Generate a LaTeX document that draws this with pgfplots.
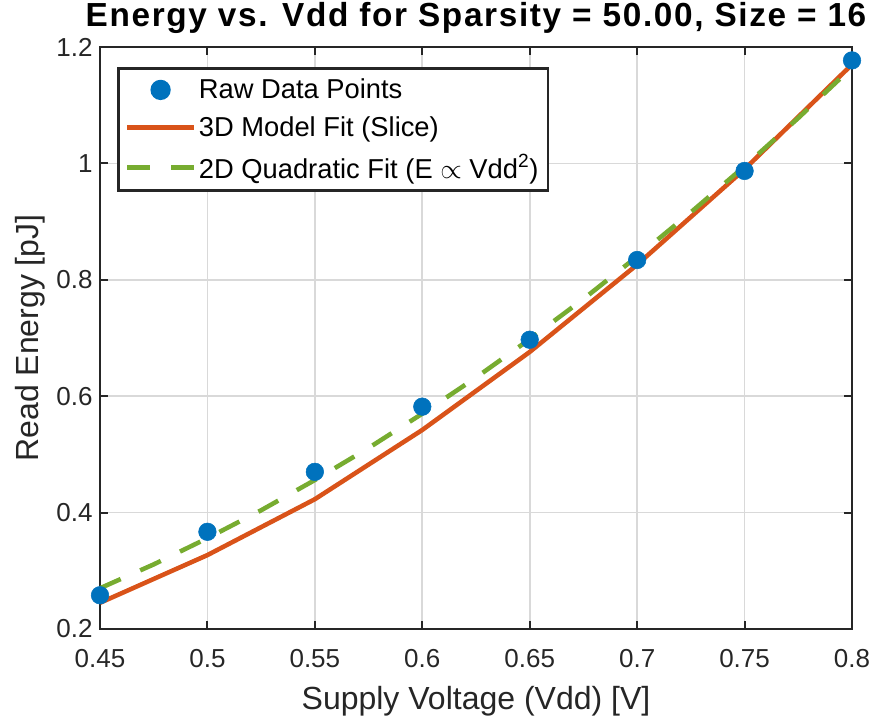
\documentclass[border=0pt]{standalone}
\usepackage{pgfplots}
\pgfplotsset{compat=1.18}
\usepackage{fontspec}
\setmainfont{Liberation Sans}
\definecolor{mblue}{rgb}{0,0.447,0.741}
\definecolor{mred}{rgb}{0.85,0.325,0.098}
\definecolor{mgreen}{rgb}{0.466,0.674,0.188}
\definecolor{maxis}{rgb}{0.15,0.15,0.15}
\begin{document}
\begin{tikzpicture}
\begin{axis}[
  at={(0,0)}, anchor=south west,
  scale only axis, width=564pt, height=436.5pt,
  xmin=0.45, xmax=0.8, ymin=0.2, ymax=1.2,
  xtick={0.45,0.5,0.55,0.6,0.65,0.7,0.75,0.8},
  xticklabels={0.45,0.5,0.55,0.6,0.65,0.7,0.75,0.8},
  ytick={0.2,0.4,0.6,0.8,1.0,1.2},
  yticklabels={0.2,0.4,0.6,0.8,1,1.2},
  /pgf/number format/assume math mode=true,
  tick align=inside, tick pos=both,
  major tick length=6pt,
  every tick/.style={maxis, line width=1.5pt},
  axis line style={maxis, line width=2pt},
  grid=major,
  grid style={black!15, line width=1.3pt},
  tick label style={font=\fontsize{19.5}{22}\selectfont, text=maxis},
  xticklabel style={yshift=-12pt},
  yticklabel style={xshift=-2pt},
  xlabel={Supply Voltage (Vdd) [V]},
  ylabel={Read Energy [pJ]},
  label style={font=\fontsize{24}{27}\selectfont, text=maxis},
  xlabel style={yshift=-7pt},
  ylabel style={yshift=2pt},
  title={Energy vs. Vdd for Sparsity = 50.00, Size = 16},
  title style={font=\bfseries\fontsize{25}{28}\selectfont\addfontfeature{LetterSpace=5}, at={(0.5,1)}, anchor=base, yshift=9pt},
  legend style={at={(0.0226,0.9656)}, anchor=north west, draw=maxis, line width=2pt,
    font=\fontsize{20.5}{23}\selectfont, fill=white,
    inner xsep=5pt, inner ysep=6pt, row sep=8pt,
    /tikz/every even column/.append style={column sep=0pt}},
  legend cell align=left,
  legend image code/.code={\draw[mark repeat=2,mark phase=2,#1] plot coordinates {(0pt,0pt) (25pt,0pt) (50pt,0pt)};},
  clip=false,
]
\addplot[only marks, mark=*, mark size=6.6pt, mblue, mark options={draw=mblue, fill=mblue}] coordinates {
(0.45,0.258) (0.50,0.367) (0.55,0.470) (0.60,0.582) (0.65,0.697) (0.70,0.834) (0.75,0.987) (0.80,1.177)
};
\addlegendentry{Raw Data Points}
\addplot[mred, line width=3.4pt] coordinates {
(0.45,0.245) (0.50,0.327) (0.55,0.423) (0.60,0.542) (0.65,0.676) (0.70,0.826) (0.75,0.990) (0.80,1.170)
};
\addlegendentry{3D Model Fit (Slice)}
\addplot[mgreen, line width=3.4pt, dash pattern=on 17pt off 16pt] coordinates {
(0.45,0.270) (0.475,0.311) (0.50,0.356) (0.525,0.404) (0.55,0.456) (0.575,0.511) (0.60,0.570) (0.625,0.632) (0.65,0.698) (0.675,0.767) (0.70,0.840) (0.725,0.916) (0.75,0.995) (0.775,1.078) (0.80,1.165)
};
\addlegendentry{2D Quadratic Fit (E $\propto$ Vdd\textsuperscript{2})}
\end{axis}
\pgfresetboundingbox
\path (-75pt,-68.25pt) rectangle (582.75pt,471.75pt);
\end{tikzpicture}
\end{document}
